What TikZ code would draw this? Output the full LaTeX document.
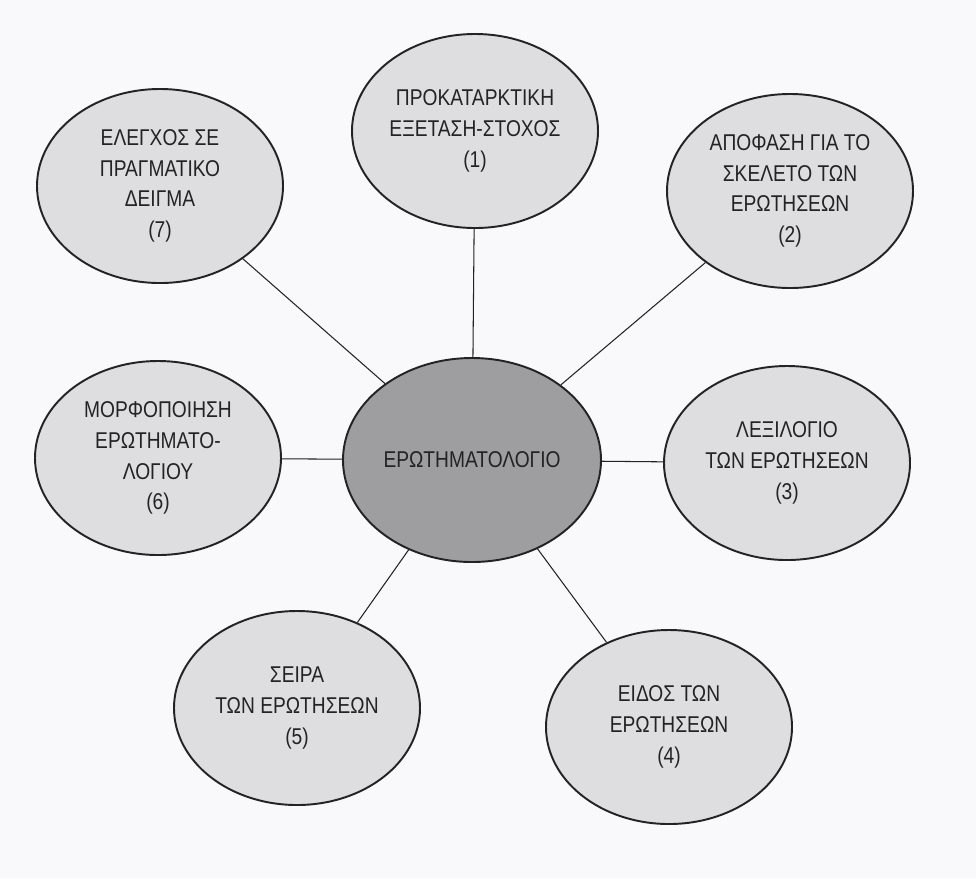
\documentclass[tikz,border=0pt]{standalone}
\usepackage{fontspec}
\setmainfont[FakeStretch=0.84]{Liberation Sans}
\usepackage{xcolor}
\usetikzlibrary{positioning, shapes.geometric}

\definecolor{paper}{RGB}{249,249,251}
\definecolor{bubblefill}{RGB}{222,222,224}
\definecolor{hubfill}{RGB}{158,158,160}
\definecolor{ink}{RGB}{35,35,35}

\begin{document}
\begin{tikzpicture}[
  x=0.2mm, y=-0.2mm,
  font=\fontsize{13pt}{17.5pt}\selectfont,
  bubble/.style={draw=ink, ellipse, line width=1.1pt, fill=bubblefill,
                 text=ink, align=center, inner sep=0pt,
                 minimum width=49.2mm, minimum height=38.8mm},
  hub/.style={bubble, fill=hubfill, minimum width=51.6mm, minimum height=40.8mm},
  link/.style={draw=ink, line width=0.6pt}
]
\fill[paper] (0,0) rectangle (976,878);
\useasboundingbox (0,0) rectangle (976,878);

\node[hub] (quest) at (472,460) {ΕΡΩΤΗΜΑΤΟΛΟΓΙΟ};
\node[bubble] (prelim) at (475,131) {ΠΡΟΚΑΤΑΡΚΤΙΚΗ\\ΕΞΕΤΑΣΗ-ΣΤΟΧΟΣ\\(1)};
\node[bubble] (skel) at (790,191) {ΑΠΟΦΑΣΗ ΓΙΑ ΤΟ\\ΣΚΕΛΕΤΟ ΤΩΝ\\ΕΡΩΤΗΣΕΩΝ\\(2)};
\node[bubble] (vocab) at (787,463) {ΛΕΞΙΛΟΓΙΟ\\ΤΩΝ ΕΡΩΤΗΣΕΩΝ\\(3)};
\node[bubble] (kind) at (669,727) {ΕΙΔΟΣ ΤΩΝ\\ΕΡΩΤΗΣΕΩΝ\\(4)};
\node[bubble] (order) at (297,708) {ΣΕΙΡΑ\\ΤΩΝ ΕΡΩΤΗΣΕΩΝ\\(5)};
\node[bubble] (form) at (158,458) {ΜΟΡΦΟΠΟΙΗΣΗ\\ΕΡΩΤΗΜΑΤΟ-\\ΛΟΓΙΟΥ\\(6)};
\node[bubble] (test) at (160,186) {ΕΛΕΓΧΟΣ ΣΕ\\ΠΡΑΓΜΑΤΙΚΟ\\ΔΕΙΓΜΑ\\(7)};

\draw[link] (quest) -- (prelim);
\draw[link] (quest) -- (skel);
\draw[link] (quest) -- (vocab);
\draw[link] (quest) -- (kind);
\draw[link] (quest) -- (order);
\draw[link] (quest) -- (form);
\draw[link] (quest) -- (test);
\end{tikzpicture}
\end{document}
